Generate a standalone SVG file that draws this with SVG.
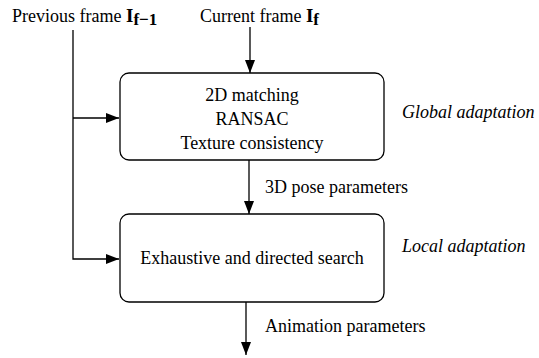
<svg xmlns="http://www.w3.org/2000/svg" width="539" height="358" viewBox="0 0 539 358">
<style>
text{font-family:"Liberation Serif","Times New Roman",serif;font-size:18px;fill:#000}
.it{font-style:italic}
.b{font-weight:bold}
.box{fill:#fff;stroke:#000;stroke-width:1.3}
.ln{fill:none;stroke:#000;stroke-width:1.3}
</style>
<defs>
<marker id="ah" markerWidth="14" markerHeight="10" refX="13" refY="5" orient="auto" markerUnits="userSpaceOnUse">
<path d="M0,0 L13,5 L0,10 Z" fill="#000"/>
</marker>
</defs>
<g id="connectors">
<path class="ln" d="M73,30 V259 H119" marker-end="url(#ah)"/>
<path class="ln" d="M73,118 H119" marker-end="url(#ah)"/>
<path class="ln" d="M250,27 V73" marker-end="url(#ah)"/>
<path class="ln" d="M249,160 V214" marker-end="url(#ah)"/>
<path class="ln" d="M246,302 V355" marker-end="url(#ah)"/>
</g>
<g id="input-prev">
<text x="12" y="22">Previous frame <tspan class="b" font-size="19">I</tspan><tspan class="b" font-size="17" dy="3">f−1</tspan></text>
</g>
<g id="input-cur">
<text x="200" y="22">Current frame <tspan class="b" font-size="19">I</tspan><tspan class="b" font-size="17" dy="3">f</tspan></text>
</g>
<g id="global">
<rect class="box" x="120" y="73" width="264" height="87" rx="9"/>
<text x="252" y="101" text-anchor="middle">2D matching</text>
<text x="252" y="125" text-anchor="middle">RANSAC</text>
<text x="252" y="149" text-anchor="middle">Texture consistency</text>
</g>
<g id="local">
<rect class="box" x="120" y="214" width="264" height="88" rx="9"/>
<text x="252" y="264" text-anchor="middle">Exhaustive and directed search</text>
</g>
<text x="265" y="193">3D pose parameters</text>
<text x="265" y="332">Animation parameters</text>
<text class="it" x="402" y="118">Global adaptation</text>
<text class="it" x="402" y="252">Local adaptation</text>
</svg>
